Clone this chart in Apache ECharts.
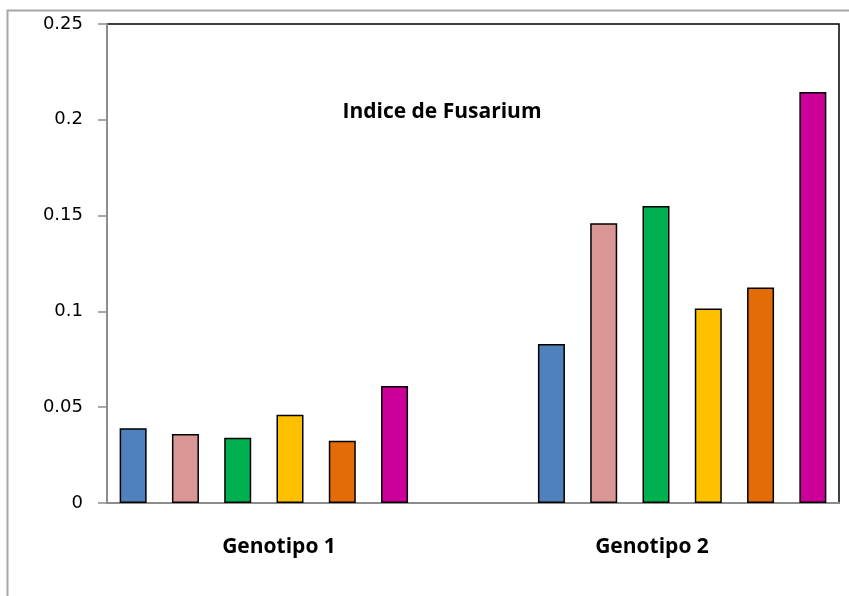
<!DOCTYPE html>
<html>
<head>
<meta charset="utf-8">
<script src="https://cdn.jsdelivr.net/npm/echarts@6/dist/echarts.min.js"></script>
<style>
  html, body { margin: 0; padding: 0; background: #fff; }
  #chart { width: 849px; height: 596px; }
</style>
</head>
<body>
<div id="chart"></div>
<script>
// valores
var genotipos = ['Genotipo 1', 'Genotipo 2'];
var genotipo1 = [0.039, 0.036, 0.034, 0.046, 0.0325, 0.061];
var genotipo2 = [0.083, 0.146, 0.155, 0.1015, 0.1125, 0.2145];
var colores = ['#4F81BD', '#D99694', '#00B050', '#FFC000', '#E36C09', '#CC0099'];
var yTicks = [0, 0.05, 0.1, 0.15, 0.2, 0.25];

// 14 huecos: 6 barras, 2 vacios, 6 barras
var slots = [];
var barras = [];
genotipo1.forEach(function (v, i) {
  slots.push('g1-' + i);
  barras.push({ value: v, itemStyle: { color: colores[i] } });
});
slots.push('v1', 'v2');
barras.push(null, null);
genotipo2.forEach(function (v, i) {
  slots.push('g2-' + i);
  barras.push({ value: v, itemStyle: { color: colores[i] } });
});

var chart = echarts.init(document.getElementById('chart'));
var option = {
  animation: false,
  title: {
    text: 'Indice de Fusarium',
    left: 437,
    top: 97,
    textAlign: 'center',
    textStyle: { fontFamily: 'Open Sans', fontWeight: 'bold', fontSize: 21, color: '#000' }
  },
  graphic: [{
    type: 'rect',
    shape: { x: 7.5, y: 10.5, width: 1000, height: 800 },
    style: { fill: 'none', stroke: '#a6a6a6', lineWidth: 2 },
    silent: true
  }],
  grid: {
    left: 107, top: 24, right: 10, bottom: 93,
    show: true, borderColor: '#000', borderWidth: 1.5, backgroundColor: 'transparent'
  },
  xAxis: [{
    type: 'category',
    data: slots,
    axisLine: { lineStyle: { color: '#8c8c8c', width: 2 } },
    axisTick: { show: false },
    axisLabel: { show: false }
  }, {
    type: 'category',
    data: genotipos,
    position: 'bottom',
    axisLine: { show: false },
    axisTick: { show: false },
    axisLabel: {
      margin: 34,
      formatter: function (v, i) { return i === 0 ? '{a|' + v + '}' : '{b|' + v + '}'; },
      rich: {
        a: { fontFamily: 'Open Sans', fontWeight: 'bold', fontSize: 21, color: '#000', padding: [0, 22, 0, 0] },
        b: { fontFamily: 'Open Sans', fontWeight: 'bold', fontSize: 21, color: '#000', padding: [0, 8, 0, 0] }
      }
    }
  }],
  yAxis: {
    type: 'value',
    min: yTicks[0],
    max: yTicks[yTicks.length - 1],
    interval: 0.05,
    axisLine: { show: true, lineStyle: { color: '#8c8c8c', width: 2 } },
    axisTick: { show: true, length: 9, lineStyle: { color: '#8c8c8c', width: 1.5 } },
    splitLine: { show: false },
    axisLabel: {
      margin: 24,
      fontFamily: 'DejaVu Sans',
      fontSize: 18,
      color: '#000',
      formatter: function (v) { return String(+v.toFixed(2)); }
    }
  },
  series: [{
    type: 'bar',
    xAxisIndex: 0,
    data: barras,
    barWidth: 27,
    itemStyle: { borderColor: '#000', borderWidth: 1.5 }
  }]
};
chart.setOption(option);
</script>
</body>
</html>
